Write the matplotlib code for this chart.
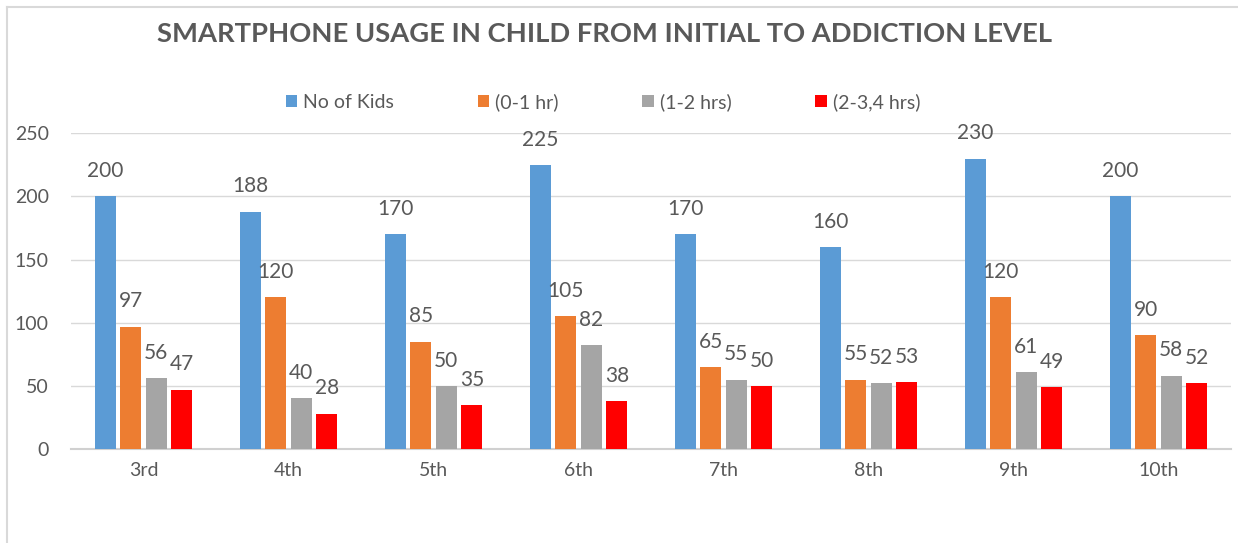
import matplotlib.pyplot as plt
import numpy as np
from matplotlib.lines import Line2D

plt.rcParams['font.family'] = ['Lato', 'DejaVu Sans']

grades = ['3rd', '4th', '5th', '6th', '7th', '8th', '9th', '10th']
no_of_kids = [200, 188, 170, 225, 170, 160, 230, 200]
hr_0_1 = [97, 120, 85, 105, 65, 55, 120, 90]
hrs_1_2 = [56, 40, 50, 82, 55, 52, 61, 58]
hrs_2_4 = [47, 28, 35, 38, 50, 53, 49, 52]

series = [
    ('No of Kids', no_of_kids, '#5B9BD5'),
    ('(0-1 hr)', hr_0_1, '#ED7D31'),
    ('(1-2 hrs)', hrs_1_2, '#A5A5A5'),
    ('(2-3,4 hrs)', hrs_2_4, '#FF0000'),
]

grey = '#595959'

fig = plt.figure(figsize=(12.38, 5.43), dpi=100)
ax = fig.add_axes([0.0574, 0.1731, 0.937, 0.5814])

x = np.arange(len(grades))
step = 0.176
width = 0.145
for i, (name, vals, col) in enumerate(series):
    pos = x + (i - 1.5) * step
    bars = ax.bar(pos, vals, width=width, color=col, label=name, zorder=3)
    ax.bar_label(bars, padding=11, fontsize=15, color=grey)

ax.set_ylim(0, 250)
ax.set_xlim(-0.5, len(grades) - 0.5)
ax.set_yticks(range(0, 251, 50))
ax.set_xticks(x)
ax.set_xticklabels(grades)
ax.grid(axis='y', color='#D9D9D9', linewidth=1, zorder=0)
for s in ['top', 'right', 'left']:
    ax.spines[s].set_visible(False)
ax.spines['bottom'].set_color('#D0D0D0')
ax.spines['bottom'].set_linewidth(1.5)
ax.tick_params(axis='both', length=0, labelsize=14, colors=grey)
ax.tick_params(axis='x', pad=9)
ax.tick_params(axis='y', pad=16)

fig.text(0.488, 0.938, 'SMARTPHONE USAGE IN CHILD FROM INITIAL TO ADDICTION LEVEL',
         ha='center', va='center', fontsize=19.7, fontweight='bold', color=grey)

fig.legend(loc='center', bbox_to_anchor=(0.487, 0.812), ncol=4, frameon=False,
           fontsize=14, handlelength=0.6, handleheight=0.6, handletextpad=0.3,
           columnspacing=4.3, labelcolor=grey)

# thin frame on left and top like the source image
fig.add_artist(Line2D([0.006, 0.006], [0.0, 0.987], color='#D9D9D9', linewidth=1.5))
fig.add_artist(Line2D([0.006, 1.0], [0.987, 0.987], color='#D9D9D9', linewidth=1.5))

fig.savefig('out.png', dpi=100)
